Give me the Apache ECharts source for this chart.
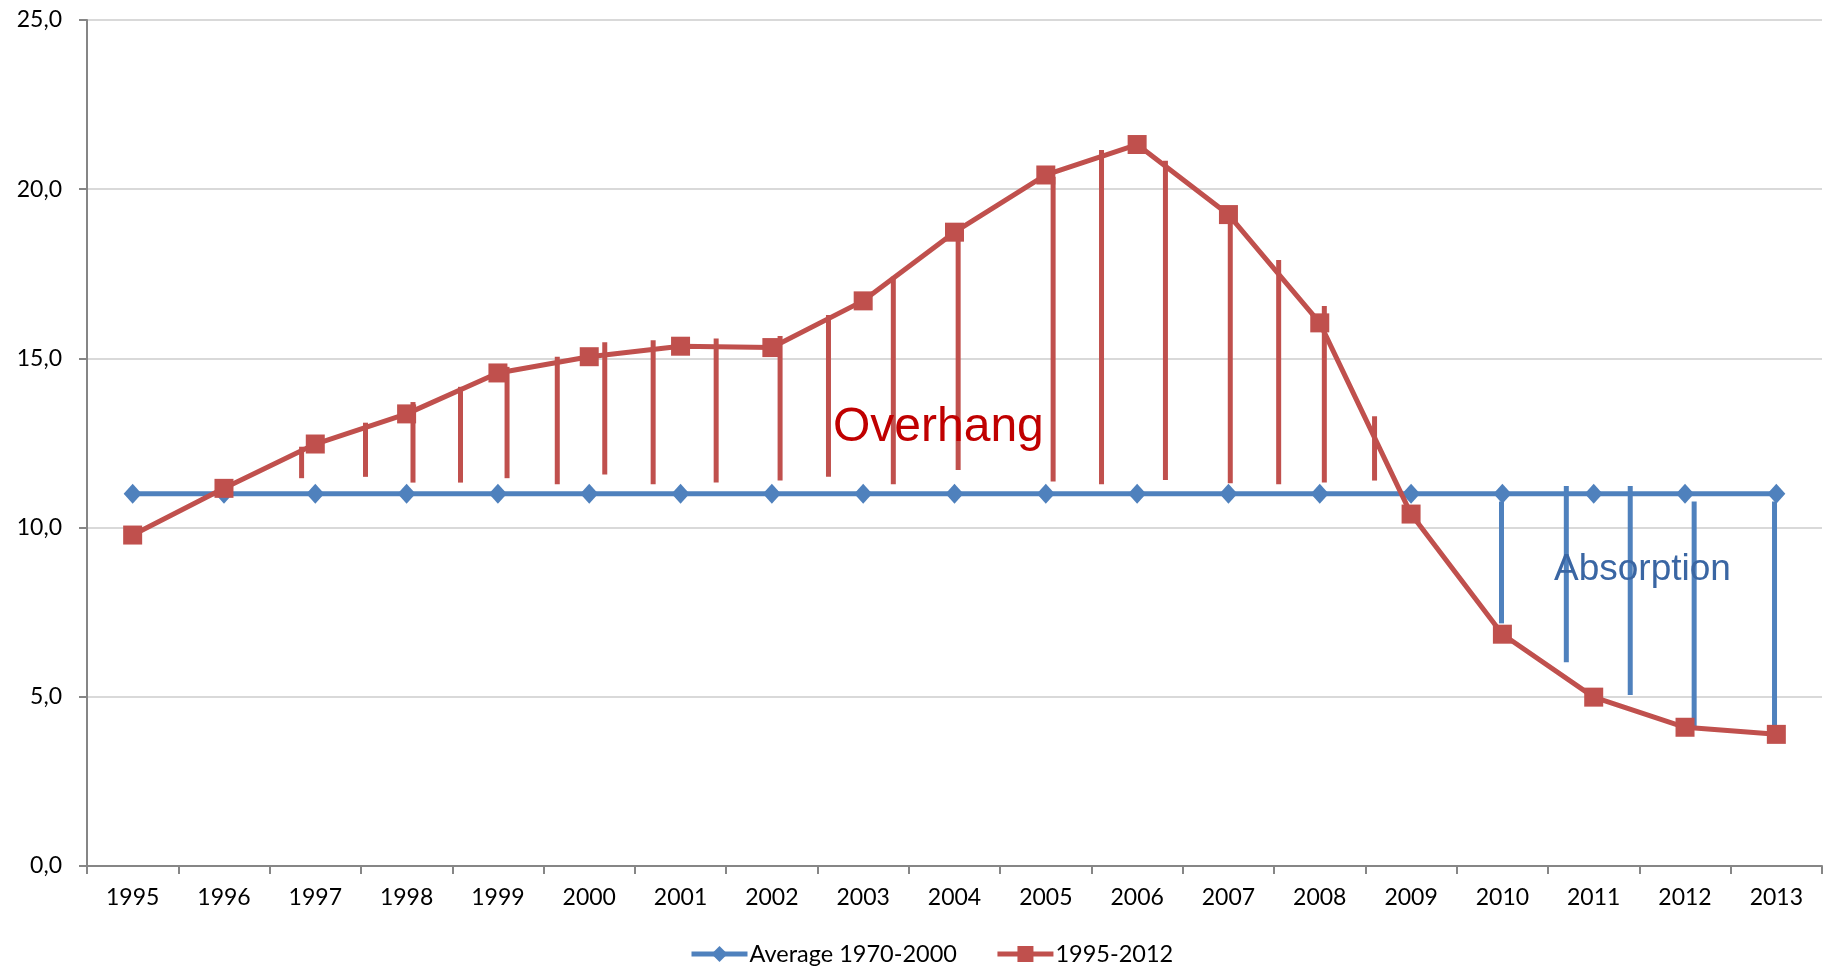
<!DOCTYPE html>
<html>
<head>
<meta charset="utf-8">
<script src="https://cdn.jsdelivr.net/npm/echarts@6/dist/echarts.min.js"></script>
<style>
  html, body { margin: 0; padding: 0; background: #fff; }
  #main { width: 1825px; height: 972px; }
</style>
</head>
<body>
<div id="main"></div>
<script>
var years = ['1995', '1996', '1997', '1998', '1999', '2000', '2001', '2002', '2003', '2004',
  '2005', '2006', '2007', '2008', '2009', '2010', '2011', '2012', '2013'];
var average = [11.0, 11.0, 11.0, 11.0, 11.0, 11.0, 11.0, 11.0, 11.0, 11.0,
  11.0, 11.0, 11.0, 11.0, 11.0, 11.0, 11.0, 11.0, 11.0];
var actual = [9.78, 11.16, 12.47, 13.36, 14.57, 15.05, 15.36, 15.32, 16.70, 18.73,
  20.42, 21.32, 19.25, 16.05, 10.40, 6.85, 4.99, 4.10, 3.89];

// hand-drawn strokes: [position on category scale, top, bottom]
var overhangBars = [
  [1.85, 12.39, 11.46], [2.55, 13.10, 11.50], [3.07, 13.71, 11.33], [3.59, 14.16, 11.33],
  [4.10, 14.75, 11.46], [4.65, 15.05, 11.28], [5.17, 15.48, 11.57], [5.70, 15.54, 11.28],
  [6.39, 15.59, 11.33], [7.09, 15.66, 11.39], [7.62, 16.28, 11.50], [8.33, 17.41, 11.28],
  [9.04, 18.71, 11.70], [10.08, 20.37, 11.36], [10.61, 21.16, 11.28], [11.31, 20.84, 11.41],
  [12.02, 19.39, 11.31], [12.55, 17.91, 11.28], [13.05, 16.55, 11.33], [13.60, 13.29, 11.39]
];
var absorptionBars = [
  [14.99, 10.77, 7.17], [15.70, 11.23, 6.02], [16.40, 11.23, 5.05],
  [17.10, 10.77, 4.12], [17.98, 10.77, 4.02]
];

function strokes(color) {
  return function (params, api) {
    var p1 = api.coord([api.value(0), api.value(1)]);
    var p2 = api.coord([api.value(0), api.value(2)]);
    return {
      type: 'line',
      shape: { x1: p1[0], y1: p1[1], x2: p2[0], y2: p2[1] },
      style: { stroke: color, lineWidth: 5 }
    };
  };
}

var chart = echarts.init(document.getElementById('main'), null, { renderer: 'canvas' });

var option = {
  backgroundColor: '#ffffff',
  animation: false,
  textStyle: { fontFamily: 'Lato' },
  grid: { left: 87, right: 3, top: 20, bottom: 106, containLabel: false },
  legend: {
    bottom: 1,
    left: 684,
    itemWidth: 56,
    itemHeight: 20,
    itemGap: 38,
    lineStyle: { width: 5 },
    textStyle: { fontSize: 23.5, color: '#000', fontFamily: 'Lato', padding: [0, 0, 0, -3] },
    data: ['Average 1970-2000', '1995-2012']
  },
  xAxis: [{
    type: 'category',
    data: years,
    boundaryGap: true,
    axisLine: { onZero: false, lineStyle: { color: '#868686', width: 2 } },
    axisTick: { show: true, length: 8, lineStyle: { color: '#868686', width: 2 } },
    axisLabel: { fontSize: 23, color: '#000', margin: 20, fontFamily: 'Lato' },
    splitLine: { show: false }
  }, {
    type: 'value',
    min: -0.5,
    max: 18.5,
    show: false
  }],
  yAxis: {
    type: 'value',
    min: 0,
    max: 25,
    interval: 5,
    axisLine: { show: true, onZero: false, lineStyle: { color: '#868686', width: 2 } },
    axisTick: { show: true, length: 8, lineStyle: { color: '#868686', width: 2 } },
    axisLabel: {
      fontSize: 23, color: '#000', margin: 25, fontFamily: 'Lato',
      formatter: function (v) { return v.toFixed(1).replace('.', ','); }
    },
    splitLine: { show: true, lineStyle: { color: '#D9D9D9', width: 2 } }
  },
  series: [{
    type: 'custom',
    xAxisIndex: 1,
    renderItem: strokes('#C0504D'),
    data: overhangBars,
    silent: true,
    z: 1
  }, {
    type: 'custom',
    xAxisIndex: 1,
    renderItem: strokes('#4F81BD'),
    data: absorptionBars,
    silent: true,
    z: 1
  }, {
    name: 'Average 1970-2000',
    type: 'line',
    data: average,
    color: '#4F81BD',
    lineStyle: { width: 5, color: '#4F81BD' },
    symbol: 'diamond',
    symbolSize: [18, 20],
    itemStyle: { color: '#4F81BD' },
    z: 3
  }, {
    name: '1995-2012',
    type: 'line',
    data: actual,
    color: '#C0504D',
    lineStyle: { width: 5, color: '#C0504D' },
    symbol: 'rect',
    symbolSize: 19,
    itemStyle: { color: '#C0504D' },
    z: 4
  }],
  graphic: [{
    type: 'text',
    left: 833,
    top: 404,
    style: { text: 'Overhang', fill: '#C00000', fontSize: 48, fontFamily: 'Liberation Sans' },
    z: 10
  }, {
    type: 'text',
    left: 1554,
    top: 551,
    style: { text: 'Absorption', fill: '#3A66A3', fontSize: 37, fontFamily: 'Liberation Sans' },
    z: 10
  }]
};

chart.setOption(option);
</script>
</body>
</html>
